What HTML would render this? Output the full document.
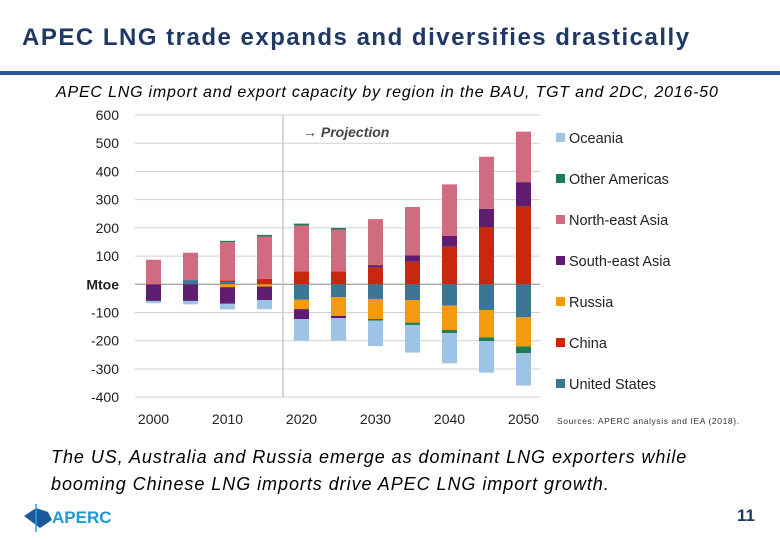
<!DOCTYPE html>
<html><head><meta charset="utf-8"><style>
body{margin:0;width:780px;height:540px;background:#fff;position:relative;overflow:hidden;font-family:"Liberation Sans",sans-serif;}
.t{position:absolute;white-space:nowrap;}
</style></head><body>
<div class="t" style="left:22px;top:24px;font-size:24px;letter-spacing:1.5px;font-weight:bold;color:#1f3864;">APEC LNG trade expands and diversifies drastically</div>
<div style="position:absolute;left:0;top:71px;width:780px;height:4px;background:#2e5597;"></div>
<div class="t" style="left:56px;top:84px;font-size:16px;letter-spacing:0.8px;font-style:italic;color:#000;">APEC LNG import and export capacity by region in the BAU, TGT and 2DC, 2016-50</div>
<svg width="780" height="540" style="position:absolute;left:0;top:0" id="chart"></svg>
<div class="t" style="left:557px;top:416px;font-size:8.5px;letter-spacing:0.6px;color:#333;">Sources: APERC analysis and IEA (2018).</div>
<div class="t" style="left:51px;top:444px;font-size:18px;letter-spacing:0.95px;font-style:italic;line-height:27px;color:#000;">The US, Australia and Russia emerge as dominant LNG exporters while<br>booming Chinese LNG imports drive APEC LNG import growth.</div>
<div class="t" style="left:737px;top:506px;font-size:17px;font-weight:bold;color:#1f3864;">11</div>
<div style="position:absolute;left:22px;top:502px;">
<svg width="95" height="32"><path d="M2 14 L14 6 L26 10 L30 18 L18 26 L10 20 Z" fill="#1a5a9a"/><line x1="14" y1="2" x2="14" y2="30" stroke="#2aa0e0" stroke-width="1.5"/>
<text x="30" y="21" font-family="Liberation Sans" font-weight="bold" font-size="17" fill="#1e9ad6">APERC</text></svg></div>
<script>
const categories=["2000","2005","2010","2015","2020","2025","2030","2035","2040","2045","2050"];
const seriesNames=["United States","China","Russia","South-east Asia","North-east Asia","Other Americas","Oceania"];
const usVals=[0,15,8,0,-55,-46,-52,-56,-76,-91,-117];
const chinaVals=[0,0,6,19,46,46,60,80,133,203,276];
const russiaVals=[0,0,-10,-8,-33,-66,-71,-80,-86,-97,-103];
const seaVals=[-59,-59,-59,-48,-35,-8,8,22,39,64,86];
const neaVals=[87,97,135,150,162,148,163,172,182,185,179];
const otherAmVals=[0,0,5,6,7,6,-6,-8,-11,-13,-24];
const oceaniaVals=[-8,-12,-20,-32,-76,-79,-90,-98,-107,-112,-115];
const yTicks=[600,500,400,300,200,100,0,-100,-200,-300,-400];
const xLabels=["2000","2010","2020","2030","2040","2050"];
const colors=["#3b7694","#c8290e","#f39a0e","#5e1d6e","#d16b7f","#217a57","#9dc3e6"];
const series=[usVals,chinaVals,russiaVals,seaVals,neaVals,otherAmVals,oceaniaVals];
const svg=document.getElementById('chart');const NS="http://www.w3.org/2000/svg";
const y=v=>284.3-v*0.2822;const x=i=>153.5+i*37;
function mk(t,a){const e=document.createElementNS(NS,t);for(const k in a)e.setAttribute(k,a[k]);svg.appendChild(e);return e;}
yTicks.forEach(v=>{const g=mk('line',{x1:135,x2:540,y1:y(v),y2:y(v),stroke:v===0?'#888':'#d0d0d0','stroke-width':1});


const t=mk('text',{x:119,y:y(v)+5,'text-anchor':'end','font-size':14,fill:'#222','font-weight':v===0?'bold':'normal'});t.textContent=v===0?'Mtoe':v;

});
const pl=mk('line',{x1:283,x2:283,y1:y(600),y2:y(-400),stroke:'#c8c8c8','stroke-width':1.5});


const pt=mk('text',{x:303,y:137,'font-size':14,'font-style':'italic','font-weight':'bold',fill:'#444'});pt.textContent='→ Projection';


categories.forEach((c,i)=>{let pos=0,neg=0;
series.forEach((s,k)=>{const v=s[i];if(!v)return;let y0,y1;
if(v>0){y0=pos;y1=pos+v;pos=y1;}else{y0=neg;y1=neg+v;neg=y1;}
const r=mk('rect',{x:x(i)-7.5,width:15,y:Math.min(y(y0),y(y1)),height:Math.abs(y(y0)-y(y1)),fill:colors[k]});

});});
xLabels.forEach((l,j)=>{const t=mk('text',{x:x(j*2),y:424,'text-anchor':'middle','font-size':14,fill:'#222'});t.textContent=l;

});
const legOrder=[6,5,4,3,2,1,0];
legOrder.forEach((k,j)=>{const yy=138+j*41;
const r=mk('rect',{x:556,y:yy-5,width:9,height:9,fill:colors[k]});


const t=mk('text',{x:569,y:yy+5,'font-size':14.5,fill:'#222'});t.textContent=seriesNames[k];

});
</script>
</body></html>
